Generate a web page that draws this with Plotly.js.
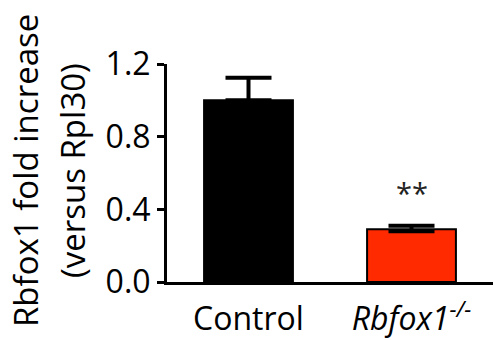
<!DOCTYPE html>
<html><head><meta charset="utf-8">
<script src="https://cdn.plot.ly/plotly-3.0.1.min.js"></script>
<style>html,body{margin:0;padding:0;background:#fff}</style>
</head><body><div id="chart" style="width:493px;height:340px"></div>
<script>
var categories = ['Control', '<i>Rbfox1<sup>-/-</sup></i>'];
var values = [1.0, 0.29];
var errUp = [0.124, 0.02];
var barColors = ['#000000', '#ff2a00'];
var yTicks = [0, 0.4, 0.8, 1.2];
var yTickText = ['0.0', '0.4', '0.8', '1.2'];
var sigLabel = '**';
var titleLine1 = 'Rbfox1 fold increase';
var titleLine2 = '(versus Rpl30)';

var FONT = '"Open Sans", "Noto Sans", sans-serif';

var trace = {
  type: 'bar',
  x: [0, 1],
  y: values,
  width: 0.545,
  marker: {color: barColors, line: {color: '#000', width: 2}},
  error_y: {type: 'data', symmetric: false, array: errUp, arrayminus: [0, 0.01],
            color: '#000', thickness: 4, width: 23},
  hoverinfo: 'none'
};

var layout = {
  width: 493, height: 340,
  margin: {l: 167, r: 0, t: 64, b: 58},
  paper_bgcolor: '#fff', plot_bgcolor: '#fff',
  showlegend: false,
  font: {family: FONT, color: '#000', size: 32},
  xaxis: {
    range: [-0.5, 1.5], tickvals: [0, 1], ticktext: categories,
    showline: true, linewidth: 3, linecolor: '#000', ticks: '', showgrid: false,
    zeroline: false, tickfont: {size: 32, family: FONT}, fixedrange: true,
    ticklabelstandoff: 7
  },
  yaxis: {
    range: [0, 1.2], tickvals: yTicks, ticktext: yTickText,
    showline: true, linewidth: 3, linecolor: '#000', ticks: 'outside',
    ticklen: 7, tickwidth: 3, tickcolor: '#000', showgrid: false, zeroline: false,
    tickfont: {size: 32, family: FONT}, fixedrange: true
  },
  annotations: [
    {x: 1, y: 0.49, xref: 'x', yref: 'y', text: sigLabel, showarrow: false,
     font: {size: 29, family: FONT, color: '#222'}, xanchor: 'center', yanchor: 'middle'},
    {x: 25, y: 171, xref: 'paper', yref: 'paper', text: titleLine1, showarrow: false, textangle: -90,
     font: {size: 33, family: FONT}, xanchor: 'center', yanchor: 'middle'},
    {x: 72, y: 171, xref: 'paper', yref: 'paper', text: titleLine2, showarrow: false, textangle: -90,
     font: {size: 33, family: FONT}, xanchor: 'center', yanchor: 'middle'}
  ]
};
// convert pixel positions of title annotations into paper coords
var pw = 493 - 167, ph = 340 - 64 - 58;
layout.annotations[1].x = (25 - 167) / pw; layout.annotations[1].y = (340 - 58 - 171) / ph;
layout.annotations[2].x = (72 - 167) / pw; layout.annotations[2].y = (340 - 58 - 171) / ph;

Plotly.newPlot('chart', [trace], layout, {displayModeBar: false, staticPlot: true});
</script></body></html>
